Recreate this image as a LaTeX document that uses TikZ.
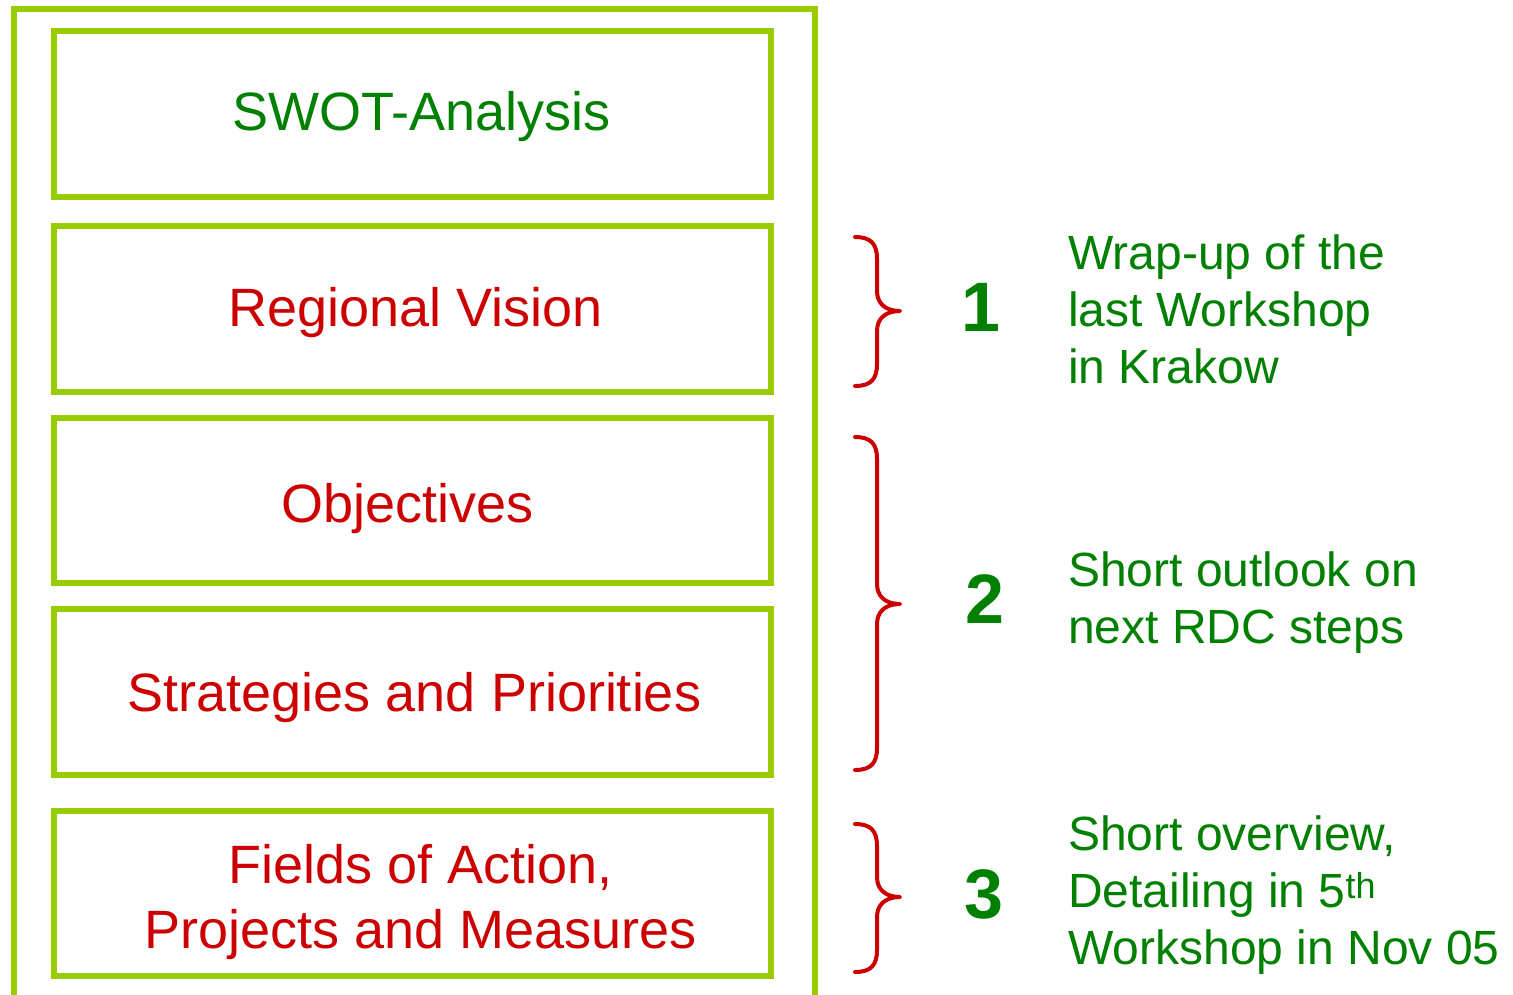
\documentclass[tikz,border=0pt]{standalone}
\usepackage{fontspec}
\setmainfont{Liberation Sans}
\definecolor{lime}{HTML}{99CC00}
\definecolor{dgreen}{HTML}{008000}
\definecolor{dred}{HTML}{CC0000}
\tikzset{
  stepbox/.style={draw=lime, line width=6pt, minimum width=717pt, inner sep=0pt},
  boxtext/.style={text=dred, font=\fontsize{54}{65}\selectfont, align=center, inner sep=0pt},
  numlabel/.style={text=dgreen, font=\fontsize{70}{80}\selectfont\bfseries, inner sep=0pt},
  sidetext/.style={text=dgreen, font=\fontsize{48}{57}\selectfont, align=left, anchor=west, inner sep=0pt},
  bracestyle/.style={draw=dred, line width=4pt, line cap=round, line join=round}
}
\begin{document}
\begin{tikzpicture}[x=1pt,y=-1pt]
\useasboundingbox (0,0) rectangle (1513,994);
% outer frame (open at bottom)
\draw[lime, line width=6pt] (14,1000) -- (14,9) -- (815,9) -- (815,1000);
% boxes
\node[stepbox, minimum height=166pt] (swot) at (412.5,114) {};
\node[stepbox, minimum height=166pt] (vision) at (412.5,309) {};
\node[stepbox, minimum height=165pt] (obj) at (412.5,500.5) {};
\node[stepbox, minimum height=166pt] (strat) at (412.5,692) {};
\node[stepbox, minimum height=165pt] (fields) at (412.5,893.5) {};
% box texts
\node[boxtext, text=dgreen] (swott) at ([shift={(9,3)}]swot.center) {SWOT-Analysis};
\node[boxtext] (visiont) at ([shift={(3,4)}]vision.center) {Regional Vision};
\node[boxtext] (objt) at ([shift={(-5,8)}]obj.center) {Objectives};
\node[boxtext] (stratt) at ([shift={(2,6)}]strat.center) {Strategies and Priorities};
\node[boxtext] (fieldst) at ([shift={(8,9)}]fields.center) {Fields of Action,\\Projects and Measures};
% braces
\foreach \t/\m/\b in {237/311/386, 437/604/770, 824/897/972}{
  \draw[bracestyle] (855,\t) .. controls (871,\t) and (877,\t+7) .. (877,\t+22)
    -- (877,\m-20) .. controls (877,\m-8) and (885,\m) .. (900,\m)
    .. controls (885,\m) and (877,\m+8) .. (877,\m+20)
    -- (877,\b-22) .. controls (877,\b-7) and (871,\b) .. (855,\b);
}
% numbers
\node[numlabel] (n1) at (981,307) {1};
\node[numlabel] (n2) at (985,599) {2};
\node[numlabel] (n3) at (984,894) {3};
% side texts
\node[sidetext] (t1) at (1068,309) {Wrap-up of the\\last Workshop\\in Krakow};
\node[sidetext] (t2) at (1068,603) {Short outlook on\\next RDC steps};
\node[sidetext] (t3) at (1068,895) {Short overview,\\Detailing in 5\textsuperscript{\fontsize{36}{40}\selectfont th}\\Workshop in Nov 05};
\end{tikzpicture}
\end{document}
